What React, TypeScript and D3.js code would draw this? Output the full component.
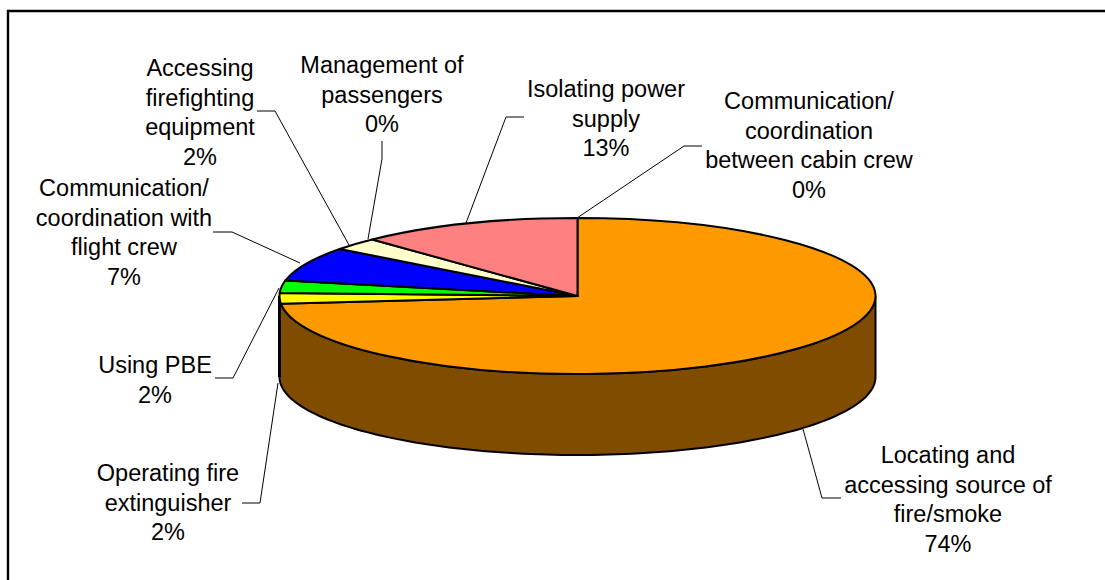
import React from "react";
import * as d3 from "d3";

const categories = [
  "Communication/ coordination between cabin crew",
  "Locating and accessing source of fire/smoke",
  "Operating fire extinguisher",
  "Using PBE",
  "Communication/ coordination with flight crew",
  "Accessing firefighting equipment",
  "Management of passengers",
  "Isolating power supply",
];
const sliceValues = [0, 73.4, 2.2, 2.6, 7.1, 2.6, 0, 12.1];
const sliceColors = ["#CCFFFF", "#FF9900", "#FFFF00", "#00FF00", "#0000FF", "#FFFFCC", "#FFFFFF", "#FF8080"];
const percentLabels = ["0%", "74%", "2%", "2%", "7%", "2%", "0%", "13%"];
const labelLines = [
  ["Communication/", "coordination", "between cabin crew"],
  ["Locating and", "accessing source of", "fire/smoke"],
  ["Operating fire", "extinguisher"],
  ["Using PBE"],
  ["Communication/", "coordination with", "flight crew"],
  ["Accessing", "firefighting", "equipment"],
  ["Management of", "passengers"],
  ["Isolating power", "supply"],
];
const labelCenters = [809, 948, 168, 155, 124, 200, 382, 606];
const labelBaselines = [109, 463, 481, 373, 196, 76, 73, 97];
const leaders: [number, number][][] = [
  [[702, 146], [684, 146], [577, 218]],
  [[841, 498], [822, 498], [803, 429]],
  [[242, 503], [260, 503], [278, 383]],
  [[215, 378], [233, 378], [279, 288]],
  [[213, 232], [232, 232], [300, 263]],
  [[257, 111], [275, 111], [349, 245]],
  [[382, 141], [382, 159], [368, 239]],
  [[524, 117], [506, 117], [466, 223]],
];

const CX = 577.5;
const CY = 296;
const RX = 298;
const RY = 78;
const DEPTH = 81;
const LINE_H = 29.6;
const FONT = "'Liberation Sans', Arial, sans-serif";

const toX = (a: number) => CX + RX * Math.sin(a);
const toY = (a: number) => CY - RY * Math.cos(a);

export default function App() {
  const arcs = d3
    .pie<number>()
    .sort(null)
    .startAngle(0)
    .endAngle(2 * Math.PI)(sliceValues);
  const arc = d3.arc<d3.PieArcDatum<number>>().innerRadius(0).outerRadius(RX);

  const sideAngles = d3.range(Math.PI / 2, (3 * Math.PI) / 2 + 0.001, Math.PI / 120);
  const sideLine = d3.line<[number, number]>();
  const sidePts: [number, number][] = [
    ...sideAngles.map((a): [number, number] => [toX(a), toY(a)]),
    ...sideAngles
      .slice()
      .reverse()
      .map((a): [number, number] => [toX(a), toY(a) + DEPTH]),
  ];
  const leaderLine = d3.line();

  return (
    <svg
      width={1105}
      height={580}
      style={{ position: "absolute", left: 0, top: 0, background: "#fff" }}
    >
      <path d="M8,580V11H1105" fill="none" stroke="#000" strokeWidth={2.4} />
      <path d={sideLine(sidePts) + "Z"} fill="#7F4C00" stroke="#000" strokeWidth={2} strokeLinejoin="round" />
      <line x1={toX(Math.PI * 1.5)} x2={toX(Math.PI * 1.5)} y1={CY} y2={CY + DEPTH} stroke="#000" strokeWidth={3} />
      <g transform={`translate(${CX},${CY}) scale(1,${RY / RX})`}>
        {arcs.map((d, i) =>
          d.value > 0 ? (
            <path
              key={categories[i]}
              d={arc(d) ?? ""}
              fill={sliceColors[i]}
              stroke="#000"
              strokeWidth={2}
              strokeLinejoin="round"
              vectorEffect="non-scaling-stroke"
            />
          ) : null
        )}
      </g>
      {leaders.map((pts, i) => (
        <path key={i} d={leaderLine(pts) ?? ""} fill="none" stroke="#000" strokeWidth={1} />
      ))}
      {categories.map((c, i) => (
        <text key={c} textAnchor="middle" fontFamily={FONT} fontSize={23.5} fill="#000">
          {[...labelLines[i], percentLabels[i]].map((t, j) => (
            <tspan key={j} x={labelCenters[i]} y={labelBaselines[i] + j * LINE_H}>
              {t}
            </tspan>
          ))}
        </text>
      ))}
    </svg>
  );
}
